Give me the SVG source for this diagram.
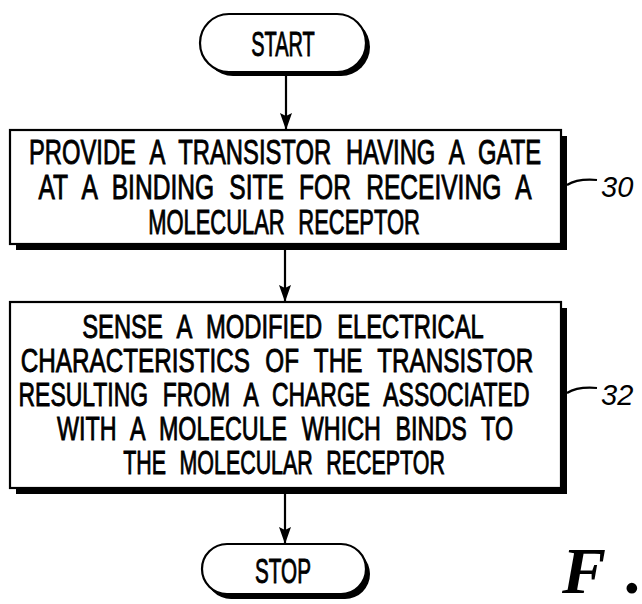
<svg xmlns="http://www.w3.org/2000/svg" width="642" height="604" viewBox="0 0 642 604">
<defs>
<style>
.t{font-family:"Liberation Sans",Arial,sans-serif;fill:#000;stroke:#000;stroke-width:0.9;text-anchor:middle;word-spacing:12px}
.b{font-size:35px}
.c{font-size:34px}
.ref{font-family:"Liberation Sans",Arial,sans-serif;font-style:italic;font-size:29px;fill:#000}
.box{fill:#fff;stroke:#000;stroke-width:2.2}
.sh{fill:#000}
.ln{fill:none;stroke:#000;stroke-width:2.2}
</style>
<marker id="ah" viewBox="0 0 17 12" refX="17" refY="6" markerWidth="17" markerHeight="12" markerUnits="userSpaceOnUse" orient="auto">
<path d="M0,0 L17,6 L0,12 L3,6 Z" fill="#000"/>
</marker>
</defs>
<rect width="642" height="604" fill="#fff"/>
<g id="start">
<rect class="sh" x="204" y="18" width="166" height="58" rx="29"/>
<rect class="box" x="200" y="14" width="166" height="58" rx="29"/>
<text class="t b" transform="translate(283,56) scale(0.57,1)">START</text>
</g>
<g id="step30">
<rect class="sh" x="16" y="136" width="551" height="114"/>
<rect class="box" x="10" y="130" width="551" height="114"/>
<text class="t b" transform="translate(285,164) scale(0.68,1)">PROVIDE A TRANSISTOR HAVING A GATE</text>
<text class="t b" transform="translate(285,199) scale(0.702,1)">AT A BINDING SITE FOR RECEIVING A</text>
<text class="t b" transform="translate(284,234) scale(0.627,1)">MOLECULAR RECEPTOR</text>
<text class="ref" x="601" y="197">30</text>
</g>
<g id="step32">
<rect class="sh" x="16" y="308" width="551" height="186"/>
<rect class="box" x="10" y="302" width="551" height="186"/>
<text class="t c" transform="translate(283,338) scale(0.699,1)">SENSE A MODIFIED ELECTRICAL</text>
<text class="t c" transform="translate(277,372) scale(0.714,1)">CHARACTERISTICS OF THE TRANSISTOR</text>
<text class="t c" transform="translate(274,406) scale(0.675,1)">RESULTING FROM A CHARGE ASSOCIATED</text>
<text class="t c" transform="translate(285,440) scale(0.686,1)">WITH A MOLECULE WHICH BINDS TO</text>
<text class="t c" transform="translate(284,474) scale(0.63,1)">THE MOLECULAR RECEPTOR</text>
<text class="ref" x="601" y="405">32</text>
</g>
<g id="stop">
<rect class="sh" x="206" y="549" width="164" height="50" rx="25"/>
<rect class="box" x="202" y="544" width="164" height="50" rx="25"/>
<text class="t b" transform="translate(283,583) scale(0.59,1)">STOP</text>
</g>
<g id="connectors">
<line class="ln" x1="286" y1="76" x2="286" y2="130" marker-end="url(#ah)"/>
<line class="ln" x1="285" y1="250" x2="285" y2="302" marker-end="url(#ah)"/>
<line class="ln" x1="285" y1="494" x2="285" y2="544" marker-end="url(#ah)"/>
<path class="ln" d="M567,185 C575,180 585,179 597,180"/>
<path class="ln" d="M567,393 C575,388 585,387 597,388"/>
</g>
<text x="562" y="593" style="font-family:'Liberation Serif','Times New Roman',serif;font-weight:bold;font-style:italic;font-size:66px">F<tspan x="626">.</tspan></text>
</svg>
